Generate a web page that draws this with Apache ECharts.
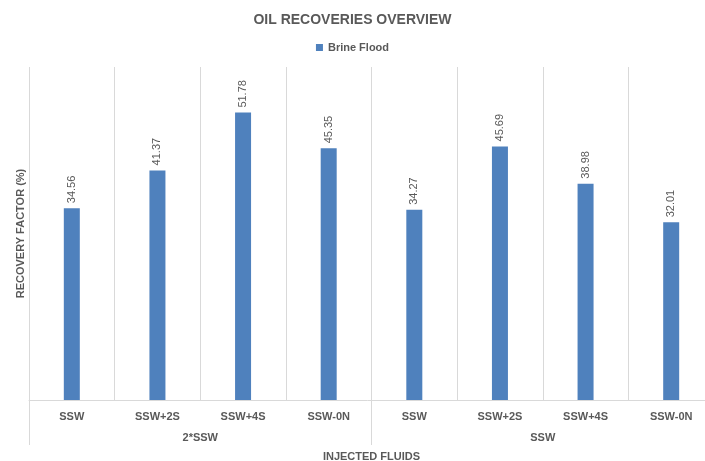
<!DOCTYPE html>
<html>
<head>
<meta charset="utf-8">
<script src="https://cdn.jsdelivr.net/npm/echarts@6/dist/echarts.min.js"></script>
<style>
  html, body { margin: 0; padding: 0; background: #ffffff; }
  #chart { width: 705px; height: 461px; }
</style>
</head>
<body>
<div id="chart"></div>
<script>
// Injected fluid for each bar, and the base brine each group belongs to
const fluids = ['SSW', 'SSW+2S', 'SSW+4S', 'SSW-0N', 'SSW', 'SSW+2S', 'SSW+4S', 'SSW-0N'];
const groups = ['2*SSW', 'SSW'];
// Recovery factor (%) for the brine flood
const brineFlood = [34.56, 41.37, 51.78, 45.35, 34.27, 45.69, 38.98, 32.01];

const grey = '#595959';
const font = 'Liberation Sans, Arial, sans-serif';

const chart = echarts.init(document.getElementById('chart'), null, { renderer: 'canvas' });

chart.setOption({
  animation: false,
  backgroundColor: '#ffffff',
  title: {
    text: 'OIL RECOVERIES OVERVIEW',
    left: 'center',
    top: 8,
    textStyle: { color: grey, fontSize: 14, fontWeight: 'bold', fontFamily: font }
  },
  legend: {
    top: 37,
    left: 'center',
    itemWidth: 7,
    itemHeight: 7,
    itemGap: 4,
    icon: 'rect',
    textStyle: { color: grey, fontSize: 11, fontWeight: 'bold', fontFamily: font }
  },
  // the plot runs slightly past the right edge of the canvas
  grid: { left: 29, top: 67, width: 685, height: 333, containLabel: false, outerBoundsMode: 'none' },
  xAxis: [
    {
      type: 'category',
      data: fluids,
      position: 'bottom',
      axisLine: { show: true, lineStyle: { color: '#d9d9d9', width: 1 } },
      axisTick: { show: false },
      splitLine: { show: true, lineStyle: { color: '#d9d9d9', width: 1 } },
      axisLabel: { color: grey, fontSize: 11, fontWeight: 'bold', fontFamily: font, margin: 11 }
    },
    {
      type: 'category',
      data: groups,
      position: 'bottom',
      axisLine: { show: false },
      axisTick: { show: true, length: 45, lineStyle: { color: '#d9d9d9', width: 1 } },
      splitLine: { show: false },
      axisLabel: { color: grey, fontSize: 11, fontWeight: 'bold', fontFamily: font, margin: 32 },
      name: 'INJECTED FLUIDS',
      nameLocation: 'middle',
      nameGap: 51,
      nameTextStyle: { color: grey, fontSize: 11, fontWeight: 'bold', fontFamily: font }
    }
  ],
  yAxis: {
    type: 'value',
    min: 0,
    max: 60,
    interval: 10,
    axisLine: { show: false },
    axisTick: { show: false },
    axisLabel: { show: false },
    splitLine: { show: false },
    name: 'RECOVERY FACTOR (%)',
    nameLocation: 'middle',
    nameGap: 3,
    nameTextStyle: { color: grey, fontSize: 11, fontWeight: 'bold', fontFamily: font }
  },
  series: [
    {
      name: 'Brine Flood',
      type: 'bar',
      xAxisIndex: 0,
      data: brineFlood,
      barWidth: 16,
      itemStyle: { color: '#4f81bd' },
      label: {
        show: true,
        position: 'top',
        rotate: 90,
        align: 'left',
        verticalAlign: 'middle',
        distance: 5,
        color: grey,
        fontSize: 11,
        fontFamily: font,
        formatter: p => p.value.toFixed(2)
      }
    }
  ]
});
</script>
</body>
</html>
